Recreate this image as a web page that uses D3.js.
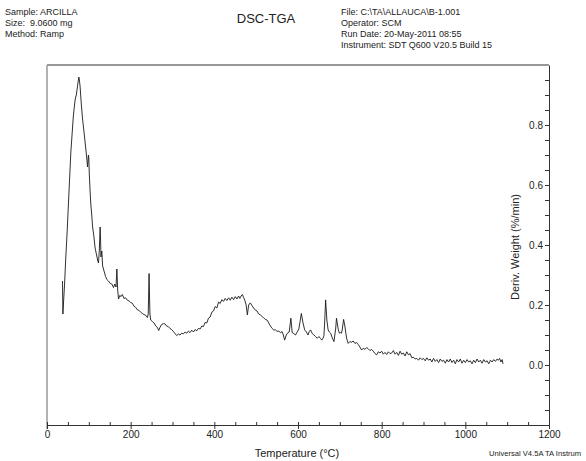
<!DOCTYPE html>
<html>
<head>
<meta charset="utf-8">
<script src="https://cdn.jsdelivr.net/npm/d3@7"></script>
<style>
  html, body { margin: 0; padding: 0; background: #fff; }
  svg { display: block; }
  text { font-family: "Liberation Sans", Arial, sans-serif; fill: #222; white-space: pre; }
</style>
</head>
<body>
<svg id="chart" width="586" height="461"></svg>
<script>
// ---------- Data ----------
const headerLeft = ["Sample: ARCILLA", "Size:  9.0600 mg", "Method: Ramp"];
const headerRight = ["File: C:\\TA\\ALLAUCA\\B-1.001", "Operator: SCM", "Run Date: 20-May-2011 08:55", "Instrument: SDT Q600 V20.5 Build 15"];
const chartTitle = "DSC-TGA";
const xTitle = "Temperature (°C)";
const yTitle = "Deriv. Weight (%/min)";
const footer = "Universal V4.5A TA Instrum";

const xTickLabels = [0, 200, 400, 600, 800, 1000, 1200];
const yTickLabels = [0.0, 0.2, 0.4, 0.6, 0.8];

const temperature = [
  37,38,40,42,45,48,51,54,57,60,63,66,68,70,72,74,76,77,79,82,85,89,92,95,97,99,100,101,103,105,107,109,112,115,118,121,123,125,127,128,129,131,133,135,137,140,143,147,151,155,159,162,165,167,169,171,174,177,180,184,188,192,196,200,204,208,212,216,220,224,228,232,236,240,242,244,246,248,252,256,260,264,267,270,274,278,282,286,290,294,298,302,306,310,314,318,322,326,330,334,338,342,346,350,354,358,362,366,370,374,378,382,386,390,394,398,402,406,410,414,418,422,426,430,434,438,442,446,450,454,458,461,464,467,470,473,476,479,482,486,490,494,498,502,506,510,514,518,522,526,530,534,538,542,546,550,554,558,562,565,568,572,576,579,583,586,590,594,598,602,605,608,612,616,620,624,627,630,634,638,642,646,650,654,657,660,662,664,666,669,672,675,678,682,686,688,690,692,696,699,702,704,706,709,712,716,720,724,728,732,736,740,744,748,752,756,760,764,768,772,776,780,784,788,792,796,800,804,808,812,816,820,824,828,832,836,840,844,848,852,856,860,864,868,872,876,880,884,888,892,896,900,904,908,912,916,920,924,928,932,936,940,944,948,952,956,960,964,968,972,976,980,984,988,992,996,1000,1004,1008,1012,1016,1020,1024,1028,1032,1036,1040,1044,1048,1052,1056,1060,1064,1068,1072,1076,1079,1082,1085,1088,1090
];
const derivWeight = [
  0.28,0.17,0.22,0.27,0.36,0.44,0.53,0.62,0.71,0.77,0.83,0.87,0.89,0.90,0.92,0.94,0.96,0.955,0.93,0.87,0.82,0.77,0.73,0.69,0.66,0.70,0.69,0.64,0.58,0.53,0.50,0.46,0.43,0.39,0.37,0.35,0.34,0.38,0.46,0.42,0.36,0.38,0.33,0.32,0.31,0.295,0.285,0.28,0.272,0.27,0.258,0.27,0.26,0.32,0.25,0.22,0.232,0.228,0.235,0.222,0.224,0.216,0.214,0.208,0.206,0.196,0.192,0.184,0.182,0.176,0.172,0.168,0.166,0.158,0.17,0.305,0.17,0.15,0.145,0.14,0.13,0.125,0.115,0.125,0.135,0.138,0.137,0.13,0.128,0.122,0.118,0.112,0.105,0.098,0.103,0.1,0.106,0.104,0.11,0.106,0.113,0.108,0.116,0.11,0.118,0.114,0.122,0.12,0.13,0.128,0.142,0.14,0.156,0.16,0.176,0.18,0.195,0.19,0.21,0.205,0.218,0.212,0.222,0.215,0.224,0.216,0.226,0.218,0.228,0.22,0.23,0.222,0.23,0.235,0.225,0.215,0.20,0.167,0.20,0.207,0.198,0.19,0.183,0.18,0.17,0.167,0.162,0.157,0.152,0.15,0.14,0.13,0.122,0.117,0.117,0.112,0.113,0.108,0.111,0.10,0.083,0.10,0.108,0.11,0.156,0.108,0.105,0.10,0.11,0.12,0.145,0.172,0.14,0.117,0.11,0.10,0.112,0.117,0.105,0.10,0.095,0.089,0.095,0.088,0.083,0.09,0.097,0.15,0.217,0.15,0.117,0.11,0.106,0.09,0.078,0.10,0.12,0.156,0.12,0.106,0.108,0.106,0.12,0.152,0.13,0.09,0.072,0.078,0.076,0.08,0.072,0.075,0.068,0.06,0.05,0.056,0.052,0.058,0.054,0.048,0.052,0.046,0.038,0.034,0.044,0.04,0.046,0.036,0.042,0.035,0.044,0.038,0.04,0.048,0.036,0.042,0.032,0.046,0.036,0.04,0.03,0.044,0.034,0.038,0.024,0.026,0.02,0.022,0.016,0.024,0.018,0.022,0.014,0.024,0.016,0.02,0.01,0.022,0.012,0.018,0.008,0.02,0.012,0.016,0.006,0.018,0.01,0.02,0.008,0.016,0.004,0.018,0.01,0.02,0.006,0.016,0.008,0.018,0.01,0.014,0.004,0.016,0.008,0.02,0.01,0.016,0.006,0.018,0.01,0.014,0.004,0.016,0.01,0.018,0.012,0.02,0.016,0.022,0.01,0.018,0.004,0.012,0.002
];

// ---------- Layout ----------
const svg = d3.select("#chart");
const plot = { left: 47, right: 549, top: 65, bottom: 425 };

const x = d3.scaleLinear().domain([0, 1200]).range([plot.left, plot.right]);
const y = d3.scaleLinear().domain([-0.2, 1.0]).range([plot.bottom, plot.top]);

// Header
const hl = svg.append("g").attr("font-size", 9);
headerLeft.forEach((t, i) => hl.append("text").attr("x", 5).attr("y", 15 + i * 11).attr("xml:space", "preserve").text(t));
const hr = svg.append("g").attr("font-size", 9);
headerRight.forEach((t, i) => hr.append("text").attr("x", 341).attr("y", 15 + i * 11).text(t));
svg.append("text").attr("x", 266).attr("y", 23).attr("text-anchor", "middle")
  .attr("font-size", 13).text(chartTitle);

// Frame: top and left
svg.append("line").attr("x1", plot.left).attr("x2", plot.right).attr("y1", plot.top).attr("y2", plot.top)
  .attr("stroke", "#333").attr("stroke-width", 1);
svg.append("line").attr("x1", plot.left).attr("x2", plot.left).attr("y1", plot.top).attr("y2", plot.bottom + 4)
  .attr("stroke", "#999").attr("stroke-width", 1.5);

// Bottom axis: minor ticks inward every 50, major outward every 200
const xAxisMinor = d3.axisBottom(x).tickValues(d3.range(0, 1201, 50)).tickSizeInner(-3).tickSizeOuter(0).tickFormat("");
const gxm = svg.append("g").attr("transform", `translate(0,${plot.bottom})`).call(xAxisMinor);
gxm.select(".domain").attr("stroke", "#333");
gxm.selectAll(".tick line").attr("stroke", "#333");
const xAxisMajor = d3.axisBottom(x).tickValues(xTickLabels).tickSizeInner(4).tickSizeOuter(0)
  .tickPadding(2).tickFormat(d3.format("d"));
const gx = svg.append("g").attr("transform", `translate(0,${plot.bottom})`).call(xAxisMajor);
gx.select(".domain").remove();
gx.selectAll(".tick line").attr("stroke", "#333");
gx.selectAll(".tick text").attr("font-size", 10).attr("font-family", "Liberation Sans, Arial, sans-serif").attr("fill", "#222");

// Right axis: ticks inward every 0.05, labels inside
const yAxis = d3.axisLeft(y).tickValues(d3.range(-0.15, 0.96, 0.05)).tickSizeInner(4).tickSizeOuter(0).tickFormat("");
const gy = svg.append("g").attr("transform", `translate(${plot.right},0)`).call(yAxis);
gy.select(".domain").attr("stroke", "#333");
gy.selectAll(".tick line").attr("stroke", "#333");
const yLab = d3.axisLeft(y).tickValues(yTickLabels).tickSize(4).tickPadding(2).tickFormat(d3.format(".1f"));
const gyl = svg.append("g").attr("transform", `translate(${plot.right},0)`).call(yLab);
gyl.select(".domain").remove();
gyl.selectAll(".tick line").attr("stroke", "#333");
gyl.selectAll(".tick text").attr("font-size", 10).attr("font-family", "Liberation Sans, Arial, sans-serif").attr("fill", "#222");

// Titles
svg.append("text").attr("x", 297).attr("y", 457).attr("text-anchor", "middle").attr("font-size", 11).text(xTitle);
svg.append("text").attr("transform", `translate(519,247) rotate(-90)`).attr("text-anchor", "middle")
  .attr("font-size", 11).text(yTitle);
svg.append("text").attr("x", 489).attr("y", 456).attr("font-size", 7.6).text(footer);

// Curve
const pts = temperature.map((t, i) => [t, derivWeight[i]]);
const line = d3.line().x(d => x(d[0])).y(d => y(d[1]));
svg.append("path").datum(pts).attr("d", line).attr("fill", "none")
  .attr("stroke", "#1a1a1a").attr("stroke-width", 0.9).attr("stroke-linejoin", "round");
</script>
</body>
</html>
